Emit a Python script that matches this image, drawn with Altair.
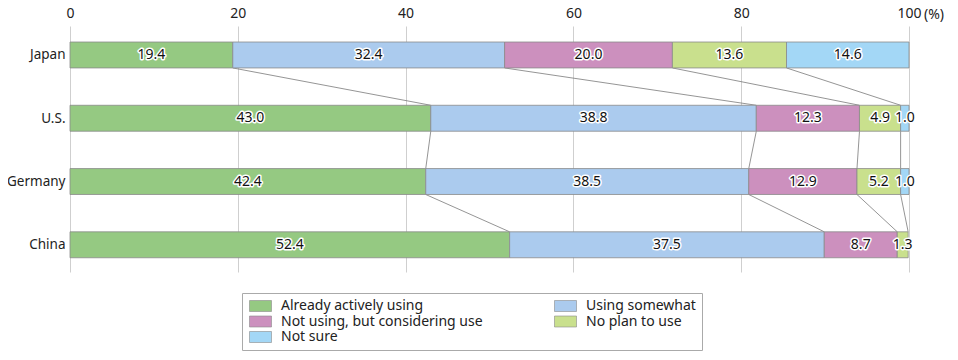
import altair as alt
import pandas as pd

countries = ["Japan", "U.S.", "Germany", "China"]
categories = ["Already actively using", "Using somewhat",
              "Not using, but considering use", "No plan to use", "Not sure"]
already = [19.4, 43.0, 42.4, 52.4]
somewhat = [32.4, 38.8, 38.5, 37.5]
considering = [20.0, 12.3, 12.9, 8.7]
noplan = [13.6, 4.9, 5.2, 1.3]
notsure = [14.6, 1.0, 1.0, 0.0]
colors = ["#95c982", "#abcbee", "#cc90be", "#c9e08d", "#a3d7f6"]
x_ticks = [0, 20, 40, 60, 80, 100]

series = [already, somewhat, considering, noplan, notsure]
HALF = 0.205

rows = []
for i, c in enumerate(countries):
    cum = 0.0
    for k, cat in enumerate(categories):
        v = series[k][i]
        rows.append({"country": c, "idx": i, "cat": cat, "order": k,
                     "value": v, "start": cum, "end": cum + v,
                     "mid": cum + v / 2, "y0": i - HALF, "y1": i + HALF,
                     "label": f"{v:.1f}"})
        cum += v
df = pd.DataFrame(rows)
df = df[df["value"] > 0]

conn = []
for i in range(len(countries) - 1):
    a = 0.0
    b = 0.0
    for k in range(len(categories) - 1):
        a += series[k][i]
        b += series[k][i + 1]
        conn.append({"xa": a, "xb": b, "ya": i + HALF, "yb": i + 1 - HALF})
cdf = pd.DataFrame(conn)

FONT = "Noto Sans"
xscale = alt.Scale(domain=[0, 100], nice=False, zero=False)
yscale = alt.Scale(domain=[-0.458, 3.43], reverse=True, nice=False, zero=False)

label_expr = " : ".join(
    [f"datum.value == {i} ? '{c}'" for i, c in enumerate(countries)] + ["''"])

bars = alt.Chart(df).mark_bar(stroke="#8a8a8a", strokeWidth=0.8).encode(
    x=alt.X("start:Q", scale=xscale,
            axis=alt.Axis(orient="top", values=x_ticks, title=None, domain=False,
                          ticks=False, grid=True, gridColor="#cfcfcf",
                          labelFontSize=14, labelColor="#222", labelFont=FONT,
                          labelPadding=6, labelFlush=False)),
    x2="end:Q",
    y=alt.Y("y0:Q", scale=yscale,
            axis=alt.Axis(values=[0, 1, 2, 3], labelExpr=label_expr, title=None,
                          domain=False, ticks=False, grid=False,
                          labelFontSize=13.5, labelColor="#222", labelFont=FONT,
                          labelPadding=5)),
    y2="y1:Q",
    fill=alt.Fill("cat:N", sort=categories,
                  scale=alt.Scale(domain=categories, range=colors),
                  legend=alt.Legend(title=None, orient="none", legendX=172, legendY=267,
                                    columns=2, direction="horizontal",
                                    columnPadding=70, rowPadding=1.5,
                                    symbolType="M-1,-1H3V1H-1Z", symbolSize=121,
                                    symbolStrokeColor="#8a8a8a", symbolStrokeWidth=0.6,
                                    labelOffset=19, labelLimit=400,
                                    labelFontSize=14, labelFont=FONT, labelColor="#222",
                                    strokeColor="#aaaaaa", padding=6)),
    order="order:Q",
)

lines = alt.Chart(cdf).mark_rule(color="#7a7a7a", strokeWidth=0.8).encode(
    x=alt.X("xa:Q", scale=xscale), x2="xb:Q",
    y=alt.Y("ya:Q", scale=yscale), y2="yb:Q",
)

lab = df[df["value"] >= 1]
halo = alt.Chart(lab).mark_text(fontSize=14, font=FONT, stroke="white", strokeWidth=3,
                                strokeJoin="round", fill="white").encode(
    x=alt.X("mid:Q", scale=xscale), y=alt.Y("idx:Q", scale=yscale), text="label:N")
txt = alt.Chart(lab).mark_text(fontSize=14, font=FONT, color="#111").encode(
    x=alt.X("mid:Q", scale=xscale), y=alt.Y("idx:Q", scale=yscale), text="label:N")

pct = alt.Chart(pd.DataFrame({"v": [100], "t": ["(%)"]})).mark_text(
    fontSize=14, font=FONT, color="#222", align="left", baseline="alphabetic", dx=15
).encode(x=alt.X("v:Q", scale=xscale), y=alt.value(-7), text="t:N")

chart = alt.layer(lines, bars, halo, txt, pct).properties(
    width=839, height=246,
    autosize=alt.AutoSizeParams(type="none"),
    padding={"left": 62, "top": 18, "right": 41, "bottom": 80},
).configure_view(stroke=None)

chart.save("out.html", embed_options={"renderer": "svg", "actions": False})
